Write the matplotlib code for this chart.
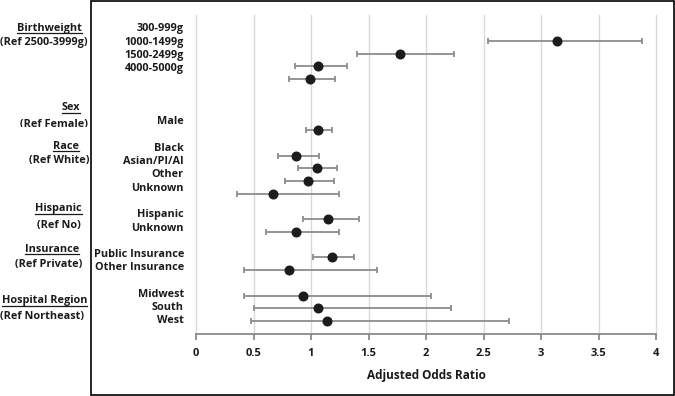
import numpy as np
import matplotlib
matplotlib.use("Agg")
import matplotlib.pyplot as plt
from matplotlib.patches import Rectangle
from matplotlib.lines import Line2D
from matplotlib.transforms import Bbox

plt.rcParams['font.family'] = ['Open Sans', 'DejaVu Sans']
plt.rcParams['font.weight'] = 'bold'

# data: row index, label, odds ratio, lower CI, upper CI
rows = [0, 1, 2, 3, 7, 9, 10, 11, 12, 14, 15, 17, 18, 20, 21, 22]
labels = ['300-999g', '1000-1499g', '1500-2499g', '4000-5000g',
          'Male',
          'Black', 'Asian/PI/AI', 'Other', 'Unknown',
          'Hispanic', 'Unknown',
          'Public Insurance', 'Other Insurance',
          'Midwest', 'South', 'West']
odds = [3.14, 1.77, 1.06, 0.99,
        1.06,
        0.87, 1.05, 0.97, 0.67,
        1.15, 0.87,
        1.18, 0.81,
        0.93, 1.06, 1.14]
lower = [2.54, 1.40, 0.86, 0.81,
         0.96,
         0.71, 0.89, 0.77, 0.36,
         0.93, 0.61,
         1.02, 0.42,
         0.42, 0.50, 0.48]
upper = [3.88, 2.24, 1.31, 1.21,
         1.18,
         1.07, 1.23, 1.20, 1.24,
         1.42, 1.24,
         1.37, 1.57,
         2.04, 2.22, 2.72]

groups = ['Birthweight', 'Sex', 'Race', 'Hispanic', 'Insurance', 'Hospital Region']
refs = ['(Ref 2500-3999g)', '(Ref Female)', '(Ref White)', '(Ref No)',
        '(Ref Private)', '(Ref Northeast)']

W, H = 675, 396
fig = plt.figure(figsize=(6.75, 3.96), dpi=100)

# plot area in pixels
x0, x1 = 196, 656
ytop, ybot = 15, 334
ax = fig.add_axes([x0 / W, 1 - ybot / H, (x1 - x0) / W, (ybot - ytop) / H])

odds = np.array(odds)
err = [odds - np.array(lower), np.array(upper) - odds]
ax.errorbar(odds, rows, xerr=err, fmt='o', color='#1c1c1c', ms=6.2,
            ecolor='#8c8c8c', elinewidth=1.3, capsize=2.5, capthick=1.3, zorder=3)

step = 280 / 22
ax.set_xlim(0, 4)
ax.set_ylim((ybot - 41) / step, (ytop - 41) / step)
ax.set_xticks(np.arange(0, 4.01, 0.5))
ax.set_xticklabels(['0', '0.5', '1', '1.5', '2', '2.5', '3', '3.5', '4'])
ax.set_yticks([])
ax.grid(axis='x', color='#d9d9d9', lw=1)
for g in ax.get_xgridlines():
    g.set_clip_on(False)
ax.set_axisbelow(True)
for s in ['top', 'left', 'right']:
    ax.spines[s].set_visible(False)
ax.spines['bottom'].set_color('#8a8a8a')
ax.spines['bottom'].set_linewidth(1.3)
ax.tick_params(axis='x', direction='out', length=4, width=1.3, color='#8a8a8a',
               labelsize=8, pad=6, labelcolor='#1a1a1a')
ax.set_xlabel('Adjusted Odds Ratio', fontsize=8.5, fontweight='bold',
              labelpad=7, color='#1a1a1a')

# category labels (sit on their own row spacing, a bit above the dots)
for r, lab in zip(rows, labels):
    fig.text(184 / W, 1 - (29 + 13.27 * r) / H, lab, ha='right', va='center',
             fontsize=7.8, color='#1a1a1a')

# group headings and reference lines
head_y = [28, 108, 146, 209, 250, 301]
ref_y = [43, 124, 161, 225, 265, 316]
head_x = [82, 80, 79, 82, 79, 87]
ref_x = [87, 88, 89, 81, 82, 84]
head_txt = []
for g, hy, hx in zip(groups, head_y, head_x):
    head_txt.append(fig.text(hx / W, 1 - hy / H, g, ha='right', va='center',
                             fontsize=7.8, color='#1a1a1a'))
for rf, ry, rx in zip(refs, ref_y, ref_x):
    t = fig.text(rx / W, 1 - ry / H, rf, ha='right', va='center',
                 fontsize=7.8, color='#1a1a1a')
    if rf == '(Ref Female)':
        # bottom of this line is hidden in the original
        t.set_clip_box(Bbox([[0, H - 126.5], [W, H - 110]]))
        t.set_clip_on(True)

# underline headings
fig.canvas.draw()
rend = fig.canvas.get_renderer()
for t in head_txt:
    bb = t.get_window_extent(rend)
    yl = bb.y0 + 1
    fig.add_artist(Line2D([bb.x0 / W, bb.x1 / W], [yl / H, yl / H],
                          transform=fig.transFigure, color='#1a1a1a', lw=0.9))

# outer frame
fig.add_artist(Rectangle((91 / W, 1.5 / H), (674 - 91) / W, (H - 2) / H,
                         transform=fig.transFigure, fill=False,
                         edgecolor='black', lw=1.2))

fig.savefig('out.png', dpi=100)
